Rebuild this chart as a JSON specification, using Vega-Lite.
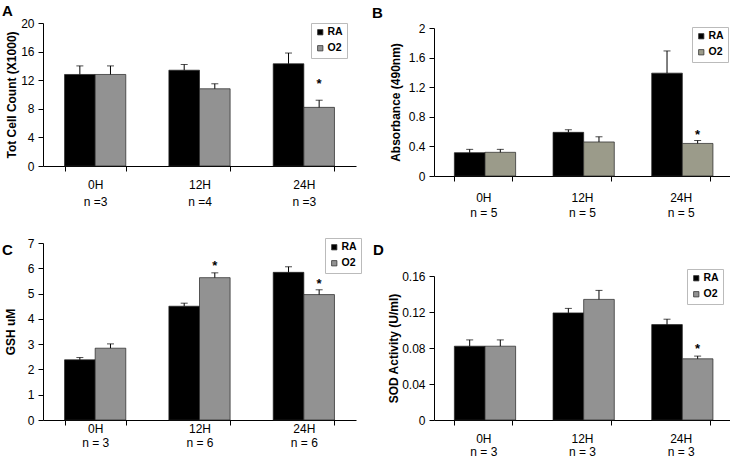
{
  "$schema": "https://vega.github.io/schema/vega-lite/v6.json",
  "background": "white",
  "padding": {"left": 2, "top": 4, "right": 0, "bottom": 0},
  "config": {
    "font": "Liberation Sans",
    "view": {"stroke": null},
    "axis": {"domainColor": "black", "tickColor": "black", "labelColor": "black", "titleColor": "black", "grid": false, "labelFontSize": 12, "titleFontSize": 12, "titleFontWeight": "bold", "tickSize": 5, "domainWidth": 1, "tickWidth": 1, "labelOverlap": false, "labelBound": false},
    "axisX": {"tickBand": "extent", "labelAngle": 0, "labelPadding": 8, "labelLineHeight": 17, "labelBaseline": "top"},
    "axisY": {"labelPadding": 4},
    "legend": {"strokeColor": "#bbbbbb", "fillColor": "white", "padding": 4, "symbolType": "square", "symbolSize": 28, "labelFontSize": 10.5, "labelFontWeight": "bold", "labelColor": "black", "rowPadding": 5, "labelOffset": 2, "symbolStrokeColor": "#333333", "symbolStrokeWidth": 0.8},
    "title": {"fontSize": 15, "fontWeight": "bold", "color": "black", "anchor": "start", "frame": "group", "baseline": "top"}
  },
  "datasets": {
    "A": [
      {"time": "0H", "group": "RA", "value": 12.8, "upper": 14.0, "star": null},
      {"time": "0H", "group": "O2", "value": 12.8, "upper": 14.0, "star": null},
      {"time": "12H", "group": "RA", "value": 13.4, "upper": 14.2, "star": null},
      {"time": "12H", "group": "O2", "value": 10.8, "upper": 11.5, "star": null},
      {"time": "24H", "group": "RA", "value": 14.3, "upper": 15.8, "star": null},
      {"time": "24H", "group": "O2", "value": 8.2, "upper": 9.2, "star": 11.9}
    ],
    "B": [
      {"time": "0H", "group": "RA", "value": 0.315, "upper": 0.36, "star": null},
      {"time": "0H", "group": "O2", "value": 0.32, "upper": 0.36, "star": null},
      {"time": "12H", "group": "RA", "value": 0.59, "upper": 0.625, "star": null},
      {"time": "12H", "group": "O2", "value": 0.46, "upper": 0.53, "star": null},
      {"time": "24H", "group": "RA", "value": 1.39, "upper": 1.69, "star": null},
      {"time": "24H", "group": "O2", "value": 0.44, "upper": 0.48, "star": 0.6}
    ],
    "C": [
      {"time": "0H", "group": "RA", "value": 2.38, "upper": 2.47, "star": null},
      {"time": "0H", "group": "O2", "value": 2.84, "upper": 3.01, "star": null},
      {"time": "12H", "group": "RA", "value": 4.5, "upper": 4.62, "star": null},
      {"time": "12H", "group": "O2", "value": 5.63, "upper": 5.82, "star": 6.2},
      {"time": "24H", "group": "RA", "value": 5.84, "upper": 6.06, "star": null},
      {"time": "24H", "group": "O2", "value": 4.96, "upper": 5.15, "star": 5.5}
    ],
    "D": [
      {"time": "0H", "group": "RA", "value": 0.082, "upper": 0.089, "star": null},
      {"time": "0H", "group": "O2", "value": 0.082, "upper": 0.089, "star": null},
      {"time": "12H", "group": "RA", "value": 0.119, "upper": 0.124, "star": null},
      {"time": "12H", "group": "O2", "value": 0.134, "upper": 0.144, "star": null},
      {"time": "24H", "group": "RA", "value": 0.106, "upper": 0.112, "star": null},
      {"time": "24H", "group": "O2", "value": 0.068, "upper": 0.071, "star": 0.0826}
    ]
  },
  "columns": 2,
  "spacing": {"row": 67, "column": 78},
  "bounds": "flush",
  "resolve": {"scale": {"fill": "independent", "y": "independent"}, "legend": {"fill": "independent"}},
  "concat": [
    {
      "width": 313, "height": 143,
      "data": {"name": "A"},
      "title": {"text": "A", "dx": -41, "offset": -2, "frame": "group"},
      "encoding": {
        "x": {"field": "time", "type": "nominal", "sort": ["0H", "12H", "24H"], "scale": {"paddingInner": 0.413, "paddingOuter": 0.2065}, "axis": {"title": null, "labelPadding": 8, "labelLineHeight": 17, "labelExpr": "datum.value ? [datum.value, datum.value == '12H' ? 'n =4' : 'n =3'] : ''"}},
        "xOffset": {"field": "group", "sort": ["RA", "O2"], "scale": {"paddingInner": 0, "paddingOuter": 0}},
        "y": {"field": "value", "type": "quantitative", "scale": {"domain": [0, 20]}, "axis": {"title": "Tot Cell Count (X1000)", "values": [0, 4, 8, 12, 16, 20], "labelOverlap": false, "titlePadding": 2}}
      },
      "layer": [
        {"mark": {"type": "bar", "stroke": "#222222", "strokeWidth": 0.7},
         "encoding": {
           "fill": {"field": "group", "type": "nominal", "scale": {"domain": ["RA", "O2"], "range": ["#000000", "#929292"]}, "legend": {"title": null, "orient": "none", "legendX": 268, "legendY": 0}}}},
        {"mark": {"type": "rule", "color": "black", "strokeWidth": 1}, "encoding": {"y2": {"field": "upper"}}},
        {"mark": {"type": "tick", "color": "black", "size": 7, "thickness": 1}, "encoding": {"y": {"field": "upper", "type": "quantitative", "axis": {"title": "Tot Cell Count (X1000)", "values": [0, 4, 8, 12, 16, 20], "labelOverlap": false, "titlePadding": 2}}}},
        {"mark": {"type": "text", "text": "*", "fontSize": 13, "fontWeight": "bold", "dy": 3, "color": "black"}, "encoding": {"y": {"field": "star", "type": "quantitative", "axis": {"title": "Tot Cell Count (X1000)", "values": [0, 4, 8, 12, 16, 20], "labelOverlap": false, "titlePadding": 2}}}}
      ]
    },
    {
      "width": 296, "height": 153,
      "data": {"name": "B"},
      "title": {"text": "B", "dx": -62, "offset": 1, "frame": "group"},
      "encoding": {
        "x": {"field": "time", "type": "nominal", "sort": ["0H", "12H", "24H"], "scale": {"paddingInner": 0.413, "paddingOuter": 0.2065}, "axis": {"title": null, "labelPadding": 11, "labelLineHeight": 15, "labelExpr": "datum.value ? [datum.value, 'n = 5'] : ''"}},
        "xOffset": {"field": "group", "sort": ["RA", "O2"], "scale": {"paddingInner": 0, "paddingOuter": 0}},
        "y": {"field": "value", "type": "quantitative", "scale": {"domain": [0, 2], "range": [153, 5]}, "axis": {"title": "Absorbance (490nm)", "values": [0, 0.4, 0.8, 1.2, 1.6, 2], "format": "~g", "labelOverlap": false, "titlePadding": 6}}
      },
      "layer": [
        {"mark": {"type": "bar", "stroke": "#222222", "strokeWidth": 0.7},
         "encoding": {
           "fill": {"field": "group", "type": "nominal", "scale": {"domain": ["RA", "O2"], "range": ["#000000", "#9b9b8a"]}, "legend": {"title": null, "orient": "none", "legendX": 258, "legendY": 4}}}},
        {"mark": {"type": "rule", "color": "black", "strokeWidth": 1}, "encoding": {"y2": {"field": "upper"}}},
        {"mark": {"type": "tick", "color": "black", "size": 7, "thickness": 1}, "encoding": {"y": {"field": "upper", "type": "quantitative", "axis": {"title": "Absorbance (490nm)", "values": [0, 0.4, 0.8, 1.2, 1.6, 2], "format": "~g", "labelOverlap": false, "titlePadding": 6}}}},
        {"mark": {"type": "text", "text": "*", "fontSize": 13, "fontWeight": "bold", "dy": 3, "color": "black"}, "encoding": {"y": {"field": "star", "type": "quantitative", "axis": {"title": "Absorbance (490nm)", "values": [0, 0.4, 0.8, 1.2, 1.6, 2], "format": "~g", "labelOverlap": false, "titlePadding": 6}}}}
      ]
    },
    {
      "width": 313, "height": 177,
      "data": {"name": "C"},
      "title": {"text": "C", "dx": -41, "offset": -21, "frame": "group"},
      "encoding": {
        "x": {"field": "time", "type": "nominal", "sort": ["0H", "12H", "24H"], "scale": {"paddingInner": 0.413, "paddingOuter": 0.2065}, "axis": {"title": null, "labelPadding": -2, "labelLineHeight": 14, "labelExpr": "datum.value ? [datum.value, datum.value == '0H' ? 'n = 3' : 'n = 6'] : ''"}},
        "xOffset": {"field": "group", "sort": ["RA", "O2"], "scale": {"paddingInner": 0, "paddingOuter": 0}},
        "y": {"field": "value", "type": "quantitative", "scale": {"domain": [0, 7]}, "axis": {"title": "GSH uM", "values": [0, 1, 2, 3, 4, 5, 6, 7], "labelOverlap": false, "titlePadding": 10}}
      },
      "layer": [
        {"mark": {"type": "bar", "stroke": "#222222", "strokeWidth": 0.7},
         "encoding": {
           "fill": {"field": "group", "type": "nominal", "scale": {"domain": ["RA", "O2"], "range": ["#000000", "#929292"]}, "legend": {"title": null, "orient": "none", "legendX": 282, "legendY": -5}}}},
        {"mark": {"type": "rule", "color": "black", "strokeWidth": 1}, "encoding": {"y2": {"field": "upper"}}},
        {"mark": {"type": "tick", "color": "black", "size": 7, "thickness": 1}, "encoding": {"y": {"field": "upper", "type": "quantitative", "axis": {"title": "GSH uM", "values": [0, 1, 2, 3, 4, 5, 6, 7], "labelOverlap": false, "titlePadding": 10}}}},
        {"mark": {"type": "text", "text": "*", "fontSize": 13, "fontWeight": "bold", "dy": 3, "color": "black"}, "encoding": {"y": {"field": "star", "type": "quantitative", "axis": {"title": "GSH uM", "values": [0, 1, 2, 3, 4, 5, 6, 7], "labelOverlap": false, "titlePadding": 10}}}}
      ]
    },
    {
      "width": 296, "height": 177,
      "data": {"name": "D"},
      "title": {"text": "D", "dx": -61, "offset": -15, "frame": "group"},
      "encoding": {
        "x": {"field": "time", "type": "nominal", "sort": ["0H", "12H", "24H"], "scale": {"paddingInner": 0.413, "paddingOuter": 0.2065}, "axis": {"title": null, "labelPadding": 8, "labelLineHeight": 13, "labelExpr": "datum.value ? [datum.value, 'n = 3'] : ''"}},
        "xOffset": {"field": "group", "sort": ["RA", "O2"], "scale": {"paddingInner": 0, "paddingOuter": 0}},
        "y": {"field": "value", "type": "quantitative", "scale": {"domain": [0, 0.16], "range": [177, 33]}, "axis": {"title": "SOD Activity (U/ml)", "values": [0, 0.04, 0.08, 0.12, 0.16], "format": "~g", "labelOverlap": false, "titlePadding": 1}}
      },
      "layer": [
        {"mark": {"type": "bar", "stroke": "#222222", "strokeWidth": 0.7},
         "encoding": {
           "fill": {"field": "group", "type": "nominal", "scale": {"domain": ["RA", "O2"], "range": ["#000000", "#929292"]}, "legend": {"title": null, "orient": "none", "legendX": 253, "legendY": 26}}}},
        {"mark": {"type": "rule", "color": "black", "strokeWidth": 1}, "encoding": {"y2": {"field": "upper"}}},
        {"mark": {"type": "tick", "color": "black", "size": 7, "thickness": 1}, "encoding": {"y": {"field": "upper", "type": "quantitative", "axis": {"title": "SOD Activity (U/ml)", "values": [0, 0.04, 0.08, 0.12, 0.16], "format": "~g", "labelOverlap": false, "titlePadding": 1}}}},
        {"mark": {"type": "text", "text": "*", "fontSize": 13, "fontWeight": "bold", "dy": 3, "color": "black"}, "encoding": {"y": {"field": "star", "type": "quantitative", "axis": {"title": "SOD Activity (U/ml)", "values": [0, 0.04, 0.08, 0.12, 0.16], "format": "~g", "labelOverlap": false, "titlePadding": 1}}}}
      ]
    }
  ]
}
